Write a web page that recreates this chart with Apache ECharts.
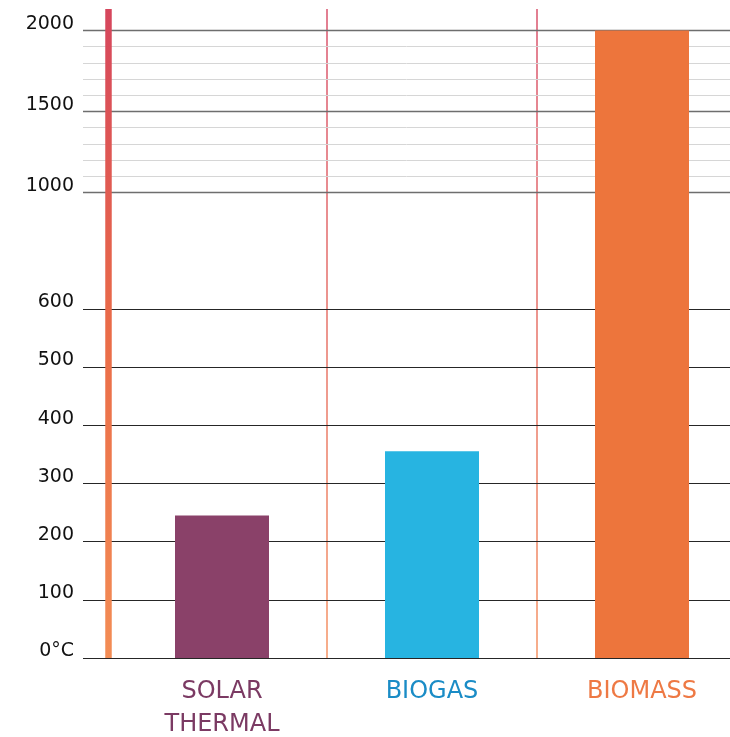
<!DOCTYPE html>
<html>
<head>
<meta charset="utf-8">
<script src="https://cdn.jsdelivr.net/npm/echarts@6/dist/echarts.min.js"></script>
<style>
  html, body { margin: 0; padding: 0; background: #ffffff; }
  #chart { width: 730px; height: 737px; }
</style>
</head>
<body>
<div id="chart"></div>
<script>
// Heat-generation temperatures by renewable source
const categories = ['SOLAR\nTHERMAL', 'BIOGAS', 'BIOMASS'];
const temperatures = [245, 355, 2000];
const barColors = ['#8a4169', '#27b4e1', '#ed753c'];
const labelColors = ['#7b3a63', '#1a8cc6', '#ee7944'];

// Temperature axis ticks
const majorTicks = [0, 100, 200, 300, 400, 500, 600, 1000, 1500, 2000];
const majorLabels = ['0°C', '100', '200', '300', '400', '500', '600', '1000', '1500', '2000'];
const minorTicks = [1100, 1200, 1300, 1400, 1600, 1700, 1800, 1900];
const axisCeiling = 2133;

// Piecewise scale: full resolution up to 600, compressed above
const scaleSegments = [
  { from: 0, to: 600, factor: 1 },
  { from: 600, to: 1000, factor: 0.5 },
  { from: 1000, to: Infinity, factor: 0.278 }
];
function toAxis(v) {
  let u = 0;
  for (const s of scaleSegments) {
    if (v <= s.from) break;
    u += (Math.min(v, s.to) - s.from) * s.factor;
  }
  return u;
}
const axisMax = toAxis(axisCeiling);
const majorPos = majorTicks.map(toAxis);

function labelFor(val) {
  for (let i = 0; i < majorPos.length; i++) {
    if (Math.abs(majorPos[i] - val) < 1e-6) return majorLabels[i];
  }
  return '';
}

const axisGradient = {
  type: 'linear', x: 0, y: 0, x2: 0, y2: 1,
  colorStops: [
    { offset: 0, color: '#d5465d' },
    { offset: 0.5, color: '#ea6c48' },
    { offset: 1, color: '#f38d55' }
  ]
};
const separatorGradient = {
  type: 'linear', x: 0, y: 0, x2: 0, y2: 1,
  colorStops: [
    { offset: 0, color: 'rgba(214,72,100,0.7)' },
    { offset: 1, color: 'rgba(244,140,90,0.7)' }
  ]
};

// Horizontal guide lines drawn across the full width
const guideLines = [];
majorTicks.forEach(function (t) {
  const upper = t >= 1000;
  guideLines.push({
    yAxis: toAxis(t),
    lineStyle: {
      color: upper ? '#6e6e6e' : '#262626',
      width: upper ? 1.4 : 1.2,
      type: 'solid'
    }
  });
});
minorTicks.forEach(function (t) {
  guideLines.push({
    yAxis: toAxis(t),
    lineStyle: { color: '#d6d6d6', width: 1, type: 'solid' }
  });
});

const chart = echarts.init(document.getElementById('chart'), null, { renderer: 'canvas' });

chart.setOption({
  animation: false,
  backgroundColor: '#ffffff',
  grid: [
    { left: 117, top: 9, width: 630, height: 649, outerBoundsMode: 'none', containLabel: false },
    { left: 83, top: 9, right: 0, height: 649, outerBoundsMode: 'none', containLabel: false }
  ],
  xAxis: [
    {
      type: 'category',
      gridIndex: 0,
      data: categories.map(function (c, i) {
        return { value: c, textStyle: { color: labelColors[i] } };
      }),
      boundaryGap: true,
      axisLine: { show: false },
      axisTick: { show: false },
      splitLine: {
        show: true,
        showMinLine: false,
        showMaxLine: false,
        lineStyle: { color: separatorGradient, width: 2 }
      },
      axisLabel: {
        interval: 0,
        margin: 17,
        fontFamily: 'DejaVu Sans',
        fontSize: 24,
        lineHeight: 33,
        align: 'center'
      }
    },
    {
      type: 'value',
      gridIndex: 1,
      min: 0,
      max: 1,
      show: false
    }
  ],
  yAxis: [
    {
      type: 'value',
      gridIndex: 0,
      min: 0,
      max: axisMax,
      offset: 9,
      z: 3,
      axisLine: { show: true, lineStyle: { color: axisGradient, width: 6.5, cap: 'butt' } },
      axisTick: { show: false },
      splitLine: { show: false },
      axisLabel: {
        customValues: majorPos,
        formatter: labelFor,
        margin: 34,
        fontFamily: 'DejaVu Sans',
        fontSize: 19,
        color: '#111111',
        verticalAlign: 'bottom',
        lineHeight: 13
      }
    },
    {
      type: 'value',
      gridIndex: 1,
      min: 0,
      max: axisMax,
      show: false
    }
  ],
  series: [
    {
      type: 'line',
      xAxisIndex: 1,
      yAxisIndex: 1,
      data: [],
      z: 1,
      silent: true,
      markLine: {
        silent: true,
        z: 1,
        symbol: 'none',
        animation: false,
        label: { show: false },
        data: guideLines
      }
    },
    {
      type: 'bar',
      xAxisIndex: 0,
      yAxisIndex: 0,
      z: 2,
      barWidth: 94,
      data: temperatures.map(function (t, i) {
        return { value: toAxis(t), itemStyle: { color: barColors[i] } };
      })
    }
  ]
});
</script>
</body>
</html>
